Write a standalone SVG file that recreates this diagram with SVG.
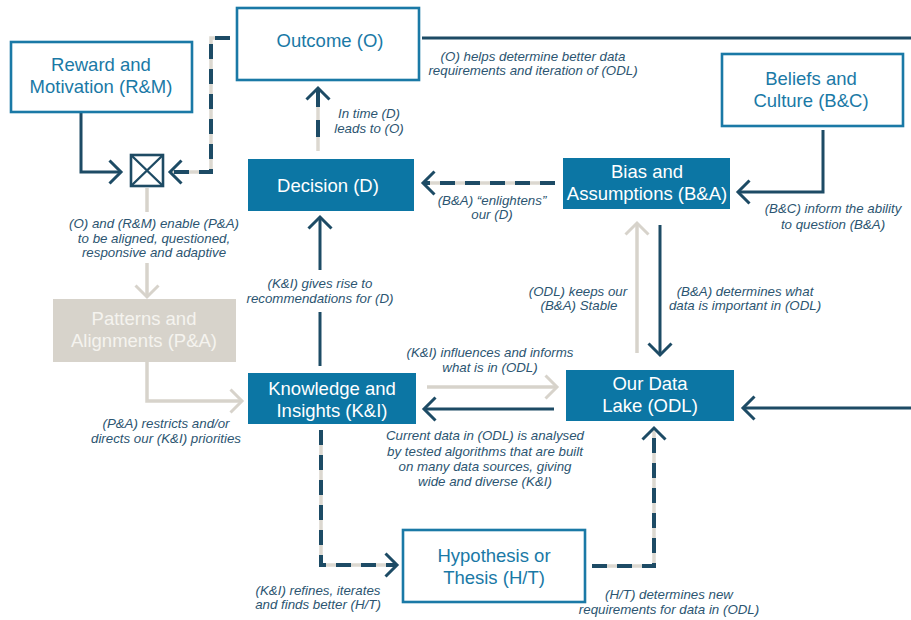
<svg xmlns="http://www.w3.org/2000/svg" width="911" height="620" viewBox="0 0 911 620">
  <defs>
    <style>
      .box-o { fill: #ffffff; stroke: #1a79a6; stroke-width: 2.6; }
      .box-f { fill: #0c76a4; }
      .box-g { fill: #d7d3cb; }
      .junction { fill: #ffffff; stroke: #1e4b64; stroke-width: 2.6; }
      .node-text { font-family: "Liberation Sans", Arial, sans-serif; font-size: 18.5px; text-anchor: middle; }
      .t-o { fill: #1a79a6; }
      .t-f { fill: #ffffff; }
      .t-g { fill: #f5f3ef; }
      .lbl { font-family: "Liberation Sans", Arial, sans-serif; font-style: italic; font-size: 13.3px; fill: #2c5571; text-anchor: middle; }
      .c-dark { fill: none; stroke: #1d4b65; stroke-width: 3; }
      .c-grey { fill: none; stroke: #d7d3cb; stroke-width: 3.5; }
      .c-under { fill: none; stroke: #dcd8d0; stroke-width: 3.5; }
      .c-dash { fill: none; stroke: #1d4b65; stroke-width: 4; stroke-dasharray: 15 10; }
    </style>
    <marker id="arrow-dark" markerUnits="userSpaceOnUse" markerWidth="32" markerHeight="32" viewBox="-16 -16 32 32" refX="0" refY="0" orient="auto-start-reverse">
      <path d="M-11.5,-11.5 L0,0 L-11.5,11.5" fill="none" stroke="#1d4b65" stroke-width="3"/>
    </marker>
    <marker id="arrow-grey" markerUnits="userSpaceOnUse" markerWidth="32" markerHeight="32" viewBox="-16 -16 32 32" refX="0" refY="0" orient="auto-start-reverse">
      <path d="M-11.5,-11.5 L0,0 L-11.5,11.5" fill="none" stroke="#d7d3cb" stroke-width="3"/>
    </marker>
  </defs>

  <rect width="911" height="620" fill="#ffffff"/>

  <!-- connectors -->
  <g id="connectors">
    <!-- R&M to junction -->
    <path class="c-dark" d="M81,113 V172 H121" marker-end="url(#arrow-dark)"/>
    <!-- Outcome to junction (dashed) -->
    <path class="c-under" d="M230,38 H211 V172 H172"/>
    <path class="c-dash" d="M230,38 H211 V172 H170" marker-end="url(#arrow-dark)"/>
    <!-- junction to P&A -->
    <path class="c-grey" d="M147,188 V212"/>
    <path class="c-grey" d="M147,263 V297" marker-end="url(#arrow-grey)"/>
    <!-- P&A to K&I -->
    <path class="c-grey" d="M147,362 V401 H242" marker-end="url(#arrow-grey)"/>
    <!-- K&I to Decision -->
    <path class="c-dark" d="M320,366 V312"/>
    <path class="c-dark" d="M320,270 V217" marker-end="url(#arrow-dark)"/>
    <!-- Decision to Outcome (dashed) -->
    <path class="c-under" d="M318,90 V151"/>
    <path class="c-dash" d="M318,88 V151" style="stroke-dasharray: 19 13 17 14" marker-start="url(#arrow-dark)"/>
    <!-- Outcome to ODL (runs off to the right) -->
    <path class="c-dark" d="M422,38 H911"/>
    <path class="c-dark" d="M911,408 H743" marker-end="url(#arrow-dark)"/>
    <!-- B&C to B&A -->
    <path class="c-dark" d="M823,130 V192 H738" marker-end="url(#arrow-dark)"/>
    <!-- B&A to Decision (dashed) -->
    <path class="c-under" d="M555,183 H425"/>
    <path class="c-dash" d="M555,183 H423" marker-end="url(#arrow-dark)"/>
    <!-- B&A to ODL -->
    <path class="c-dark" d="M660,225 V355" marker-end="url(#arrow-dark)"/>
    <!-- ODL to B&A -->
    <path class="c-grey" d="M637,353 V223" marker-end="url(#arrow-grey)"/>
    <!-- K&I to ODL -->
    <path class="c-grey" d="M427,387 H557" marker-end="url(#arrow-grey)"/>
    <!-- ODL to K&I -->
    <path class="c-dark" d="M554,409 H424" marker-end="url(#arrow-dark)"/>
    <!-- K&I to H/T (dashed) -->
    <path class="c-under" d="M321,430 V565 H395"/>
    <path class="c-dash" d="M321,430 V565 H397" marker-end="url(#arrow-dark)"/>
    <!-- H/T to ODL (dashed) -->
    <path class="c-under" d="M592,566 H654 V430"/>
    <path class="c-dash" d="M592,566 H654 V428" marker-end="url(#arrow-dark)"/>
  </g>

  <!-- connector labels -->
  <g id="labels">
    <text class="lbl" x="533" y="61">(O) helps determine better data</text>
    <text class="lbl" x="533" y="75">requirements and iteration of (ODL)</text>
    <text class="lbl" x="369" y="118">In time (D)</text>
    <text class="lbl" x="369" y="133">leads to (O)</text>
    <text class="lbl" x="833" y="213">(B&amp;C) inform the ability</text>
    <text class="lbl" x="833" y="229">to question (B&amp;A)</text>
    <text class="lbl" x="492" y="205">(B&amp;A) “enlightens”</text>
    <text class="lbl" x="492" y="219">our (D)</text>
    <text class="lbl" x="154" y="228">(O) and (R&amp;M) enable (P&amp;A)</text>
    <text class="lbl" x="154" y="243">to be aligned, questioned,</text>
    <text class="lbl" x="154" y="257">responsive and adaptive</text>
    <text class="lbl" x="320" y="288">(K&amp;I) gives rise to</text>
    <text class="lbl" x="320" y="303">recommendations for (D)</text>
    <text class="lbl" x="578" y="296">(ODL) keeps our</text>
    <text class="lbl" x="579" y="310">(B&amp;A) Stable</text>
    <text class="lbl" x="745" y="296">(B&amp;A) determines what</text>
    <text class="lbl" x="745" y="310">data is important in (ODL)</text>
    <text class="lbl" x="490" y="357">(K&amp;I) influences and informs</text>
    <text class="lbl" x="490" y="372">what is in (ODL)</text>
    <text class="lbl" x="166" y="428">(P&amp;A) restricts and/or</text>
    <text class="lbl" x="166" y="443">directs our (K&amp;I) priorities</text>
    <text class="lbl" x="485" y="440">Current data in (ODL) is analysed</text>
    <text class="lbl" x="485" y="456">by tested algorithms that are built</text>
    <text class="lbl" x="485" y="471">on many data sources, giving</text>
    <text class="lbl" x="485" y="486">wide and diverse (K&amp;I)</text>
    <text class="lbl" x="318" y="595">(K&amp;I) refines, iterates</text>
    <text class="lbl" x="318" y="609">and finds better (H/T)</text>
    <text class="lbl" x="669" y="599">(H/T) determines new</text>
    <text class="lbl" x="669" y="614">requirements for data in (ODL)</text>
  </g>

  <!-- nodes -->
  <g id="node-rm">
    <rect class="box-o" x="11" y="42" width="181" height="70"/>
    <text class="node-text t-o" x="101" y="71">Reward and</text>
    <text class="node-text t-o" x="101" y="93">Motivation (R&amp;M)</text>
  </g>
  <g id="node-junction">
    <rect class="junction" x="131" y="155" width="32" height="31"/>
    <path d="M131,155 L163,186 M163,155 L131,186" stroke="#1e4b64" stroke-width="2.4" fill="none"/>
  </g>
  <g id="node-outcome">
    <rect class="box-o" x="237" y="8" width="182" height="72"/>
    <text class="node-text t-o" x="330" y="47">Outcome (O)</text>
  </g>
  <g id="node-bc">
    <rect class="box-o" x="722" y="54" width="181" height="72"/>
    <text class="node-text t-o" x="811" y="85">Beliefs and</text>
    <text class="node-text t-o" x="811" y="107">Culture (B&amp;C)</text>
  </g>
  <g id="node-decision">
    <rect class="box-f" x="248" y="159" width="166" height="52"/>
    <text class="node-text t-f" x="328" y="192">Decision (D)</text>
  </g>
  <g id="node-ba">
    <rect class="box-f" x="563" y="158" width="167" height="51"/>
    <text class="node-text t-f" x="647" y="178">Bias and</text>
    <text class="node-text t-f" x="647" y="200">Assumptions (B&amp;A)</text>
  </g>
  <g id="node-pa">
    <rect class="box-g" x="53" y="299" width="183" height="63"/>
    <text class="node-text t-g" x="144" y="325">Patterns and</text>
    <text class="node-text t-g" x="144" y="347">Alignments (P&amp;A)</text>
  </g>
  <g id="node-ki">
    <rect class="box-f" x="248" y="373" width="168" height="51"/>
    <text class="node-text t-f" x="332" y="395">Knowledge and</text>
    <text class="node-text t-f" x="332" y="417">Insights (K&amp;I)</text>
  </g>
  <g id="node-odl">
    <rect class="box-f" x="566" y="370" width="168" height="51"/>
    <text class="node-text t-f" x="650" y="390">Our Data</text>
    <text class="node-text t-f" x="650" y="412">Lake (ODL)</text>
  </g>
  <g id="node-ht">
    <rect class="box-o" x="403" y="530" width="182" height="72"/>
    <text class="node-text t-o" x="494" y="562">Hypothesis or</text>
    <text class="node-text t-o" x="494" y="584">Thesis (H/T)</text>
  </g>
</svg>
